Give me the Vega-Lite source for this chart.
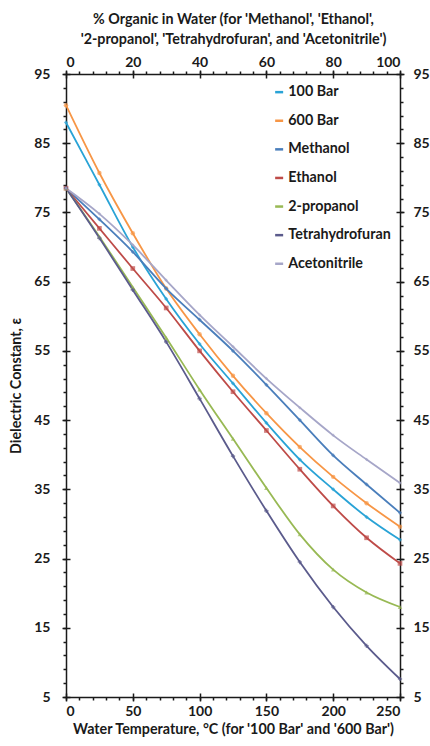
{
  "$schema": "https://vega.github.io/schema/vega-lite/v6.json",
  "autosize": {"type": "none"},
  "padding": {"left": 66, "top": 74, "right": 30, "bottom": 49},
  "width": 334,
  "height": 623,
  "background": "white",
  "config": {
    "font": "Lato",
    "view": {"stroke": null},
    "axis": {"labelFont": "Lato", "labelFontSize": 14, "labelFontWeight": "bold", "labelColor": "#1a1a1a", "titleFont": "Lato", "titleFontSize": 14.3, "titleFontWeight": "bold", "titleColor": "#1a1a1a", "domainColor": "#1a1a1a", "tickColor": "#1a1a1a", "domainWidth": 1.5, "tickWidth": 1.5, "grid": false}
  },
  "datasets": {
    "temps": [
      {"series": "100 Bar", "T": 0, "value": 88.0},
      {"series": "100 Bar", "T": 25, "value": 79.0},
      {"series": "100 Bar", "T": 50, "value": 70.0},
      {"series": "100 Bar", "T": 75, "value": 62.5},
      {"series": "100 Bar", "T": 100, "value": 56.0},
      {"series": "100 Bar", "T": 125, "value": 50.3},
      {"series": "100 Bar", "T": 150, "value": 44.6},
      {"series": "100 Bar", "T": 175, "value": 39.3},
      {"series": "100 Bar", "T": 200, "value": 35.0},
      {"series": "100 Bar", "T": 225, "value": 31.0},
      {"series": "100 Bar", "T": 250, "value": 27.7},
      {"series": "600 Bar", "T": 0, "value": 90.5},
      {"series": "600 Bar", "T": 25, "value": 80.7},
      {"series": "600 Bar", "T": 50, "value": 72.0},
      {"series": "600 Bar", "T": 75, "value": 64.0},
      {"series": "600 Bar", "T": 100, "value": 57.4},
      {"series": "600 Bar", "T": 125, "value": 51.4},
      {"series": "600 Bar", "T": 150, "value": 46.0},
      {"series": "600 Bar", "T": 175, "value": 41.1},
      {"series": "600 Bar", "T": 200, "value": 36.8},
      {"series": "600 Bar", "T": 225, "value": 33.0},
      {"series": "600 Bar", "T": 250, "value": 29.6}
    ],
    "organic": [
      {"series": "Methanol", "pct": 0, "value": 78.5},
      {"series": "Methanol", "pct": 10, "value": 74.0},
      {"series": "Methanol", "pct": 20, "value": 69.3},
      {"series": "Methanol", "pct": 30, "value": 64.0},
      {"series": "Methanol", "pct": 40, "value": 59.5},
      {"series": "Methanol", "pct": 50, "value": 55.0},
      {"series": "Methanol", "pct": 60, "value": 50.1},
      {"series": "Methanol", "pct": 70, "value": 45.0},
      {"series": "Methanol", "pct": 80, "value": 39.9},
      {"series": "Methanol", "pct": 90, "value": 35.7},
      {"series": "Methanol", "pct": 100, "value": 31.6},
      {"series": "Ethanol", "pct": 0, "value": 78.5},
      {"series": "Ethanol", "pct": 10, "value": 72.7},
      {"series": "Ethanol", "pct": 20, "value": 66.9},
      {"series": "Ethanol", "pct": 30, "value": 61.2},
      {"series": "Ethanol", "pct": 40, "value": 55.0},
      {"series": "Ethanol", "pct": 50, "value": 49.1},
      {"series": "Ethanol", "pct": 60, "value": 43.5},
      {"series": "Ethanol", "pct": 70, "value": 37.9},
      {"series": "Ethanol", "pct": 80, "value": 32.6},
      {"series": "Ethanol", "pct": 90, "value": 28.0},
      {"series": "Ethanol", "pct": 100, "value": 24.3},
      {"series": "2-propanol", "pct": 0, "value": 78.5},
      {"series": "2-propanol", "pct": 10, "value": 71.5},
      {"series": "2-propanol", "pct": 20, "value": 64.2},
      {"series": "2-propanol", "pct": 30, "value": 56.9},
      {"series": "2-propanol", "pct": 40, "value": 49.4},
      {"series": "2-propanol", "pct": 50, "value": 42.3},
      {"series": "2-propanol", "pct": 60, "value": 35.2},
      {"series": "2-propanol", "pct": 70, "value": 28.5},
      {"series": "2-propanol", "pct": 80, "value": 23.4},
      {"series": "2-propanol", "pct": 90, "value": 20.1},
      {"series": "2-propanol", "pct": 100, "value": 18.0},
      {"series": "Tetrahydrofuran", "pct": 0, "value": 78.5},
      {"series": "Tetrahydrofuran", "pct": 10, "value": 71.3},
      {"series": "Tetrahydrofuran", "pct": 20, "value": 63.8},
      {"series": "Tetrahydrofuran", "pct": 30, "value": 56.3},
      {"series": "Tetrahydrofuran", "pct": 40, "value": 48.1},
      {"series": "Tetrahydrofuran", "pct": 50, "value": 39.8},
      {"series": "Tetrahydrofuran", "pct": 60, "value": 31.9},
      {"series": "Tetrahydrofuran", "pct": 70, "value": 24.5},
      {"series": "Tetrahydrofuran", "pct": 80, "value": 18.0},
      {"series": "Tetrahydrofuran", "pct": 90, "value": 12.4},
      {"series": "Tetrahydrofuran", "pct": 100, "value": 7.6},
      {"series": "Acetonitrile", "pct": 0, "value": 78.5},
      {"series": "Acetonitrile", "pct": 10, "value": 74.8},
      {"series": "Acetonitrile", "pct": 20, "value": 70.3},
      {"series": "Acetonitrile", "pct": 30, "value": 65.2},
      {"series": "Acetonitrile", "pct": 40, "value": 60.2},
      {"series": "Acetonitrile", "pct": 50, "value": 55.6},
      {"series": "Acetonitrile", "pct": 60, "value": 51.0},
      {"series": "Acetonitrile", "pct": 70, "value": 46.8},
      {"series": "Acetonitrile", "pct": 80, "value": 42.8},
      {"series": "Acetonitrile", "pct": 90, "value": 39.3},
      {"series": "Acetonitrile", "pct": 100, "value": 35.9}
    ]
  },
  "layer": [
    {
      "data": {"name": "temps"},
      "resolve": {"axis": {"x": "independent", "y": "independent"}},
      "layer": [
        {
          "mark": {"type": "line", "interpolate": "monotone", "strokeWidth": 1.8},
          "encoding": {
            "x": {"field": "T", "type": "quantitative", "scale": {"domain": [0, 250], "nice": false, "zero": false},
              "axis": {"orient": "bottom", "values": [0, 50, 100, 150, 200, 250], "offset": -4, "tickSize": 8, "domain": false, "labelPadding": 3, "title": "Water Temperature, °C (for '100 Bar' and '600 Bar')", "titlePadding": 4}},
            "y": {"field": "value", "type": "quantitative", "scale": {"domain": [5, 95], "nice": false, "zero": false},
              "axis": {"orient": "left", "values": [5, 15, 25, 35, 45, 55, 65, 75, 85, 95], "offset": -4, "tickSize": 8, "domain": false, "labelPadding": 12, "title": "Dielectric Constant, ε", "titlePadding": 10}},
            "color": {"field": "series", "type": "nominal", "sort": ["100 Bar", "600 Bar", "Methanol", "Ethanol", "2-propanol", "Tetrahydrofuran", "Acetonitrile"],
              "scale": {"domain": ["100 Bar", "600 Bar", "Methanol", "Ethanol", "2-propanol", "Tetrahydrofuran", "Acetonitrile"], "range": ["#29a3d6", "#f79646", "#4a7ebb", "#be4b48", "#98b954", "#5b5b8c", "#a6a6c8"]},
              "legend": {"orient": "none", "legendX": 206, "legendY": 11, "title": null, "padding": 0, "symbolType": "stroke", "symbolSize": 64, "symbolStrokeWidth": 2.5, "rowPadding": 13.6, "labelOffset": 2, "labelFont": "Lato", "labelFontSize": 14.3, "labelFontWeight": "bold", "labelColor": "#1a1a1a"}}
          }
        },
        {
          "transform": [{"filter": "datum.series === '100 Bar'"}],
          "mark": {"type": "point", "filled": true, "size": 18, "shape": "diamond", "color": "#29a3d6"},
          "encoding": {
            "x": {"field": "T", "type": "quantitative",
              "axis": {"orient": "bottom", "values": [0, 10, 20, 30, 40, 50, 60, 70, 80, 90, 100, 110, 120, 130, 140, 150, 160, 170, 180, 190, 200, 210, 220, 230, 240, 250], "tickSize": 3, "labels": false, "domain": true, "title": null}},
            "y": {"field": "value", "type": "quantitative",
              "axis": {"orient": "left", "values": [5, 7, 9, 11, 13, 15, 17, 19, 21, 23, 25, 27, 29, 31, 33, 35, 37, 39, 41, 43, 45, 47, 49, 51, 53, 55, 57, 59, 61, 63, 65, 67, 69, 71, 73, 75, 77, 79, 81, 83, 85, 87, 89, 91, 93, 95], "tickSize": 3, "labels": false, "domain": true, "title": null}}
          }
        },
        {
          "transform": [{"filter": "datum.series === '600 Bar'"}],
          "mark": {"type": "point", "filled": true, "size": 20, "shape": "circle", "color": "#f79646"},
          "encoding": {
            "x": {"field": "T", "type": "quantitative", "axis": null},
            "y": {"field": "value", "type": "quantitative", "axis": null}
          }
        }
      ]
    },
    {
      "data": {"name": "organic"},
      "resolve": {"axis": {"x": "independent", "y": "independent"}},
      "layer": [
        {
          "mark": {"type": "line", "interpolate": "monotone", "strokeWidth": 1.8},
          "encoding": {
            "x": {"field": "pct", "type": "quantitative", "scale": {"domain": [0, 100], "nice": false, "zero": false},
              "axis": {"orient": "top", "values": [0, 20, 40, 60, 80, 100], "offset": -4, "tickSize": 8, "domain": false, "labelPadding": 1, "title": ["% Organic in Water (for 'Methanol', 'Ethanol',", "'2-propanol', 'Tetrahydrofuran', and 'Acetonitrile')"], "titleLineHeight": 19.5, "titlePadding": 9}},
            "y": {"field": "value", "type": "quantitative", "scale": {"domain": [5, 95], "nice": false, "zero": false},
              "axis": {"orient": "right", "values": [5, 15, 25, 35, 45, 55, 65, 75, 85, 95], "offset": -4, "tickSize": 8, "domain": false, "labelPadding": 9, "title": null}},
            "color": {"field": "series", "type": "nominal"}
          }
        },
        {
          "transform": [{"filter": "datum.series === 'Methanol'"}],
          "mark": {"type": "point", "filled": true, "size": 18, "shape": "diamond", "color": "#4a7ebb"},
          "encoding": {
            "x": {"field": "pct", "type": "quantitative",
              "axis": {"orient": "top", "values": [0, 4, 8, 12, 16, 20, 24, 28, 32, 36, 40, 44, 48, 52, 56, 60, 64, 68, 72, 76, 80, 84, 88, 92, 96, 100], "tickSize": 3, "labels": false, "domain": true, "title": null}},
            "y": {"field": "value", "type": "quantitative",
              "axis": {"orient": "right", "values": [5, 7, 9, 11, 13, 15, 17, 19, 21, 23, 25, 27, 29, 31, 33, 35, 37, 39, 41, 43, 45, 47, 49, 51, 53, 55, 57, 59, 61, 63, 65, 67, 69, 71, 73, 75, 77, 79, 81, 83, 85, 87, 89, 91, 93, 95], "tickSize": 3, "labels": false, "domain": true, "title": null}}
          }
        },
        {
          "transform": [{"filter": "datum.series === 'Ethanol'"}],
          "mark": {"type": "point", "filled": true, "size": 22, "shape": "square", "color": "#be4b48"},
          "encoding": {
            "x": {"field": "pct", "type": "quantitative", "axis": null},
            "y": {"field": "value", "type": "quantitative", "axis": null}
          }
        },
        {
          "transform": [{"filter": "datum.series === '2-propanol'"}],
          "mark": {"type": "point", "filled": true, "size": 20, "shape": "triangle-up", "color": "#98b954"},
          "encoding": {
            "x": {"field": "pct", "type": "quantitative", "axis": null},
            "y": {"field": "value", "type": "quantitative", "axis": null}
          }
        },
        {
          "transform": [{"filter": "datum.series === 'Tetrahydrofuran'"}],
          "mark": {"type": "point", "filled": true, "size": 18, "shape": "cross", "color": "#5b5b8c"},
          "encoding": {
            "x": {"field": "pct", "type": "quantitative", "axis": null},
            "y": {"field": "value", "type": "quantitative", "axis": null}
          }
        },
        {
          "transform": [{"filter": "datum.series === 'Acetonitrile'"}],
          "mark": {"type": "point", "filled": true, "size": 12, "shape": "diamond", "color": "#a6a6c8"},
          "encoding": {
            "x": {"field": "pct", "type": "quantitative", "axis": null},
            "y": {"field": "value", "type": "quantitative", "axis": null}
          }
        }
      ]
    }
  ],
  "resolve": {"scale": {"x": "independent", "y": "independent"}, "axis": {"x": "independent", "y": "independent"}}
}
